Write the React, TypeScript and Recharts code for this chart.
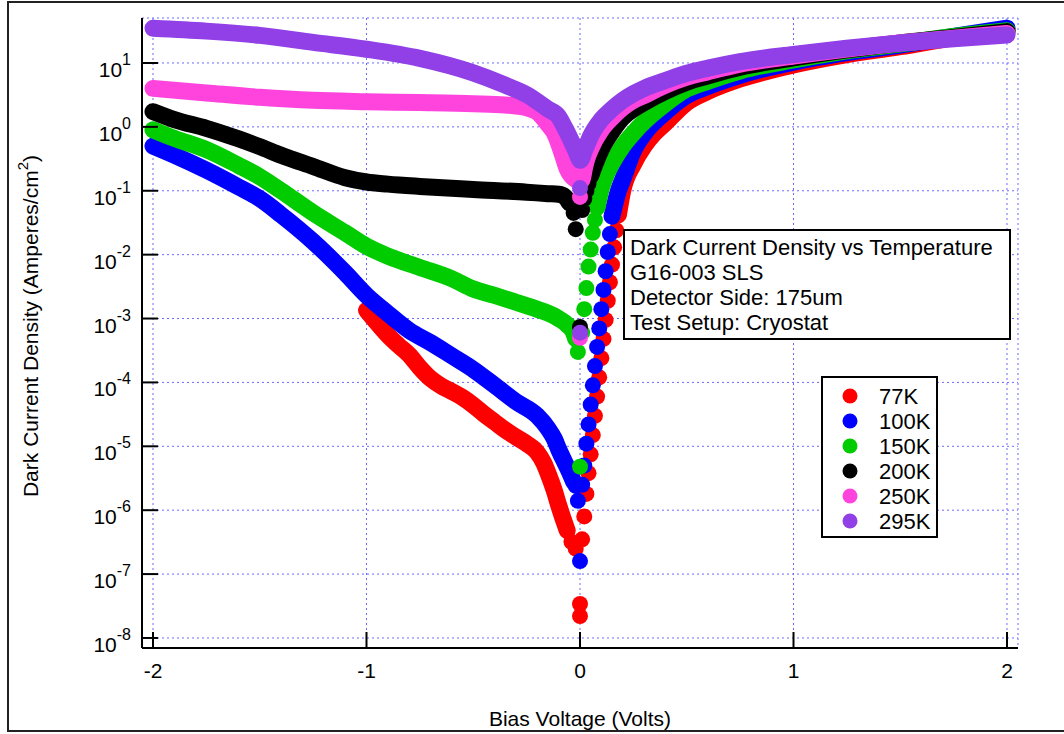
import { ComposedChart, Line, Scatter, XAxis, YAxis, CartesianGrid, Legend } from 'recharts'

const FONT = "'Liberation Sans', Arial, Helvetica, sans-serif"

type Pt = { v: number; j: number | null }

// axis ticks
const voltTicks = [-2, -1, 0, 1, 2]
const voltLabels = ['-2', '-1', '0', '1', '2']
const decadeTicks = [1e-8, 1e-7, 1e-6, 1e-5, 1e-4, 1e-3, 1e-2, 1e-1, 1, 10]
const decadeExps = ['-8', '-7', '-6', '-5', '-4', '-3', '-2', '-1', '0', '1']

const temps = ['77K', '100K', '150K', '200K', '250K', '295K']
const colors = ['#ff0000', '#0000ff', '#00cc00', '#000000', '#ff44dd', '#9040e6']

const infoLines = [
  'Dark Current Density vs Temperature',
  'G16-003 SLS',
  'Detector Side: 175um',
  'Test Setup: Cryostat',
]

// dense parts of each sweep (drawn as a fat trace), null = gap
const k77Trace: Pt[] = [
  { v: -1.0, j: 1.35e-3 }, { v: -0.95, j: 8.5e-4 }, { v: -0.9, j: 5.5e-4 }, { v: -0.85, j: 3.8e-4 },
  { v: -0.8, j: 2.7e-4 }, { v: -0.75, j: 1.7e-4 }, { v: -0.7, j: 1.15e-4 }, { v: -0.65, j: 8.8e-5 },
  { v: -0.6, j: 7.2e-5 }, { v: -0.55, j: 5.8e-5 }, { v: -0.5, j: 4.4e-5 }, { v: -0.45, j: 3.2e-5 },
  { v: -0.4, j: 2.4e-5 }, { v: -0.35, j: 1.8e-5 }, { v: -0.3, j: 1.4e-5 }, { v: -0.25, j: 1.1e-5 },
  { v: -0.2, j: 8e-6 }, { v: -0.17, j: 5.5e-6 }, { v: -0.15, j: 3.8e-6 }, { v: -0.12, j: 2e-6 },
  { v: -0.1, j: 1.2e-6 }, { v: -0.08, j: 7.5e-7 }, { v: -0.06, j: 4.8e-7 },
  { v: 0.05, j: null },
  { v: 0.18, j: 0.042 }, { v: 0.2, j: 0.1 }, { v: 0.25, j: 0.26 }, { v: 0.3, j: 0.5 }, { v: 0.35, j: 0.8 },
  { v: 0.4, j: 1.15 }, { v: 0.5, j: 2.4 }, { v: 0.6, j: 3.6 }, { v: 0.75, j: 5.6 }, { v: 1.0, j: 9.3 },
  { v: 1.25, j: 13.5 }, { v: 1.5, j: 18 }, { v: 1.75, j: 25 }, { v: 2.0, j: 33 },
]
const k77Dots: Pt[] = [
  { v: -0.04, j: 3.2e-7 }, { v: -0.02, j: 2.5e-7 }, { v: 0, j: 3.4e-8 }, { v: 0, j: 2.2e-8 },
  { v: 0.01, j: 3.5e-7 }, { v: 0.02, j: 8e-7 }, { v: 0.03, j: 1.8e-6 }, { v: 0.04, j: 3.8e-6 },
  { v: 0.05, j: 7.5e-6 }, { v: 0.06, j: 1.5e-5 }, { v: 0.07, j: 3e-5 }, { v: 0.08, j: 6e-5 },
  { v: 0.09, j: 1.2e-4 }, { v: 0.1, j: 2.4e-4 }, { v: 0.11, j: 4.8e-4 }, { v: 0.12, j: 9.5e-4 },
  { v: 0.13, j: 1.9e-3 }, { v: 0.14, j: 3.7e-3 }, { v: 0.15, j: 7e-3 }, { v: 0.16, j: 0.013 },
  { v: 0.17, j: 0.024 },
]

const k100Trace: Pt[] = [
  { v: -2.0, j: 0.5 }, { v: -1.9, j: 0.36 }, { v: -1.75, j: 0.21 }, { v: -1.6, j: 0.115 },
  { v: -1.5, j: 0.075 }, { v: -1.4, j: 0.042 }, { v: -1.25, j: 0.016 }, { v: -1.1, j: 5.2e-3 },
  { v: -1.0, j: 2.3e-3 }, { v: -0.9, j: 1.2e-3 }, { v: -0.8, j: 6.5e-4 }, { v: -0.7, j: 4.2e-4 },
  { v: -0.6, j: 2.6e-4 }, { v: -0.5, j: 1.6e-4 }, { v: -0.4, j: 9e-5 }, { v: -0.3, j: 5e-5 },
  { v: -0.2, j: 3e-5 }, { v: -0.15, j: 1.9e-5 }, { v: -0.12, j: 1.3e-5 }, { v: -0.1, j: 9e-6 },
  { v: -0.07, j: 5.5e-6 }, { v: -0.05, j: 4e-6 }, { v: -0.03, j: 2.8e-6 },
  { v: 0.05, j: null },
  { v: 0.15, j: 0.04 }, { v: 0.18, j: 0.1 }, { v: 0.2, j: 0.15 }, { v: 0.25, j: 0.42 }, { v: 0.3, j: 0.78 },
  { v: 0.4, j: 1.7 }, { v: 0.5, j: 3.1 }, { v: 0.6, j: 4.3 }, { v: 0.75, j: 6.4 }, { v: 1.0, j: 10.3 },
  { v: 1.25, j: 14.5 }, { v: 1.5, j: 19 }, { v: 1.75, j: 26 }, { v: 2.0, j: 35 },
]
const k100Dots: Pt[] = [
  { v: -0.02, j: 2.4e-6 }, { v: -0.01, j: 1.4e-6 }, { v: 0, j: 1.6e-7 },
  { v: 0.01, j: 2.5e-6 }, { v: 0.02, j: 5e-6 }, { v: 0.03, j: 1.1e-5 }, { v: 0.04, j: 2.2e-5 },
  { v: 0.05, j: 4.5e-5 }, { v: 0.06, j: 9e-5 }, { v: 0.07, j: 1.8e-4 }, { v: 0.08, j: 3.6e-4 },
  { v: 0.09, j: 7e-4 }, { v: 0.1, j: 1.4e-3 }, { v: 0.11, j: 2.8e-3 }, { v: 0.12, j: 5.5e-3 },
  { v: 0.13, j: 0.011 }, { v: 0.14, j: 0.021 },
]

const k150Trace: Pt[] = [
  { v: -2.0, j: 0.9 }, { v: -1.9, j: 0.66 }, { v: -1.75, j: 0.44 }, { v: -1.6, j: 0.25 },
  { v: -1.5, j: 0.166 }, { v: -1.4, j: 0.1 }, { v: -1.25, j: 0.045 }, { v: -1.1, j: 0.022 },
  { v: -1.0, j: 0.0135 }, { v: -0.9, j: 0.0095 }, { v: -0.75, j: 0.0063 }, { v: -0.6, j: 0.0042 },
  { v: -0.5, j: 0.0029 }, { v: -0.4, j: 0.0023 }, { v: -0.3, j: 0.0018 }, { v: -0.2, j: 0.0014 },
  { v: -0.1, j: 0.001 }, { v: -0.06, j: 8e-4 }, { v: -0.03, j: 6e-4 }, { v: -0.02, j: 4.8e-4 },
  { v: 0.05, j: null },
  { v: 0.08, j: 0.055 }, { v: 0.1, j: 0.11 }, { v: 0.12, j: 0.17 }, { v: 0.15, j: 0.27 }, { v: 0.2, j: 0.5 },
  { v: 0.25, j: 0.8 }, { v: 0.3, j: 1.2 }, { v: 0.4, j: 2.3 }, { v: 0.5, j: 3.9 }, { v: 0.6, j: 5.2 },
  { v: 0.75, j: 7.5 }, { v: 1.0, j: 11.2 }, { v: 1.25, j: 15.5 }, { v: 1.5, j: 20 }, { v: 1.75, j: 26 },
  { v: 2.0, j: 32 },
]
const k150Dots: Pt[] = [
  { v: -0.01, j: 3e-4 }, { v: 0, j: 4.8e-6 },
  { v: 0.01, j: 6e-4 }, { v: 0.02, j: 1.4e-3 }, { v: 0.03, j: 3e-3 }, { v: 0.04, j: 6.5e-3 },
  { v: 0.05, j: 0.012 }, { v: 0.06, j: 0.022 }, { v: 0.07, j: 0.035 },
]

const k200Trace: Pt[] = [
  { v: -2.0, j: 1.73 }, { v: -1.9, j: 1.3 }, { v: -1.75, j: 0.95 }, { v: -1.6, j: 0.65 },
  { v: -1.5, j: 0.49 }, { v: -1.4, j: 0.36 }, { v: -1.25, j: 0.24 }, { v: -1.1, j: 0.16 },
  { v: -1.0, j: 0.137 }, { v: -0.9, j: 0.127 }, { v: -0.75, j: 0.117 }, { v: -0.5, j: 0.105 },
  { v: -0.25, j: 0.095 }, { v: -0.15, j: 0.09 }, { v: -0.1, j: 0.088 }, { v: -0.07, j: 0.08 },
  { v: -0.05, j: 0.065 },
  { v: 0, j: null },
  { v: 0.05, j: 0.17 }, { v: 0.07, j: 0.26 }, { v: 0.1, j: 0.45 }, { v: 0.15, j: 0.85 }, { v: 0.2, j: 1.4 },
  { v: 0.25, j: 1.9 }, { v: 0.3, j: 2.4 }, { v: 0.4, j: 3.6 }, { v: 0.5, j: 5.0 }, { v: 0.6, j: 6.3 },
  { v: 0.75, j: 8.6 }, { v: 1.0, j: 12 }, { v: 1.25, j: 16 }, { v: 1.5, j: 20.5 }, { v: 1.75, j: 25 },
  { v: 2.0, j: 31 },
]
const k200Dots: Pt[] = [
  { v: -0.03, j: 0.045 }, { v: -0.02, j: 0.025 }, { v: 0, j: 7.4e-4 },
  { v: 0.01, j: 0.05 }, { v: 0.02, j: 0.075 }, { v: 0.03, j: 0.1 }, { v: 0.04, j: 0.13 },
]

const k250Trace: Pt[] = [
  { v: -2.0, j: 4.0 }, { v: -1.75, j: 3.4 }, { v: -1.5, j: 2.9 }, { v: -1.25, j: 2.6 },
  { v: -1.0, j: 2.48 }, { v: -0.75, j: 2.4 }, { v: -0.5, j: 2.3 }, { v: -0.35, j: 2.2 },
  { v: -0.25, j: 2.0 }, { v: -0.2, j: 1.7 }, { v: -0.15, j: 1.1 }, { v: -0.12, j: 0.8 },
  { v: -0.1, j: 0.55 }, { v: -0.08, j: 0.35 }, { v: -0.06, j: 0.22 }, { v: -0.04, j: 0.17 },
  { v: -0.02, j: 0.15 }, { v: 0, j: 0.14 }, { v: 0.01, j: 0.15 }, { v: 0.02, j: 0.22 },
  { v: 0.03, j: 0.3 }, { v: 0.05, j: 0.45 }, { v: 0.1, j: 0.9 }, { v: 0.15, j: 1.4 }, { v: 0.2, j: 2.0 },
  { v: 0.25, j: 2.6 }, { v: 0.3, j: 3.1 }, { v: 0.4, j: 4.5 }, { v: 0.5, j: 6.0 }, { v: 0.6, j: 7.3 },
  { v: 0.75, j: 9.6 }, { v: 1.0, j: 12.8 }, { v: 1.25, j: 16.5 }, { v: 1.5, j: 20.5 }, { v: 1.75, j: 24.5 },
  { v: 2.0, j: 29 },
]
const k250Dots: Pt[] = [{ v: 0, j: 0.08 }, { v: 0, j: 5e-4 }]

const k295Trace: Pt[] = [
  { v: -2.0, j: 35 }, { v: -1.75, j: 31.5 }, { v: -1.5, j: 27 }, { v: -1.25, j: 21 },
  { v: -1.0, j: 16.4 }, { v: -0.75, j: 11.8 }, { v: -0.5, j: 7 }, { v: -0.35, j: 4.5 },
  { v: -0.25, j: 3.2 }, { v: -0.15, j: 1.9 }, { v: -0.1, j: 1.45 }, { v: -0.07, j: 0.95 },
  { v: -0.05, j: 0.7 }, { v: -0.03, j: 0.5 }, { v: -0.02, j: 0.42 }, { v: -0.01, j: 0.35 },
  { v: 0, j: 0.3 }, { v: 0.01, j: 0.33 }, { v: 0.02, j: 0.42 }, { v: 0.03, j: 0.5 }, { v: 0.05, j: 0.72 },
  { v: 0.1, j: 1.3 }, { v: 0.15, j: 1.9 }, { v: 0.2, j: 2.6 }, { v: 0.25, j: 3.3 }, { v: 0.3, j: 4.0 },
  { v: 0.4, j: 5.3 }, { v: 0.5, j: 6.9 }, { v: 0.6, j: 8.3 }, { v: 0.75, j: 10.5 }, { v: 1.0, j: 13.6 },
  { v: 1.25, j: 17 }, { v: 1.5, j: 20.5 }, { v: 1.75, j: 24 }, { v: 2.0, j: 27.5 },
]
const k295Dots: Pt[] = [{ v: 0, j: 0.11 }, { v: 0, j: 6e-4 }]

const traces = [k77Trace, k100Trace, k150Trace, k200Trace, k250Trace, k295Trace]
const dotSets = [k77Dots, k100Dots, k150Dots, k200Dots, k250Dots, k295Dots]

const xDomain = [-2.0515, 2.0515]
const yDomain = [Math.pow(10, -8.157), Math.pow(10, 1.704)]

const BottomTick = ({ x, y, payload }: any) => (
  <g>
    <line x1={x} y1={y} x2={x} y2={y - 16} stroke="#000" strokeWidth={2} />
    <text x={x} y={y + 30} textAnchor="middle" fontSize={21} fontFamily={FONT} fill="#000">
      {voltLabels[voltTicks.indexOf(payload.value)]}
    </text>
  </g>
)

const TopTick = ({ x, y }: any) => <line x1={x} y1={y} x2={x} y2={y + 16} stroke="#000" strokeWidth={2} />

const LeftTick = ({ x, y, payload }: any) => (
  <g>
    <line x1={x} y1={y} x2={x + 16} y2={y} stroke="#000" strokeWidth={2} />
    <text x={x - 11} y={y + 14} textAnchor="end" fontSize={21} fontFamily={FONT} fill="#000">
      10
      <tspan dy={-12} fontSize={16}>
        {decadeExps[decadeTicks.indexOf(payload.value)]}
      </tspan>
    </text>
  </g>
)

const RightTick = ({ x, y }: any) => <line x1={x} y1={y} x2={x - 16} y2={y} stroke="#000" strokeWidth={2} />

const XTitle = ({ viewBox }: any) => {
  const vb = viewBox || { x: 142, y: 648, width: 876 }
  return (
    <text x={vb.x + vb.width / 2} y={vb.y + 78} textAnchor="middle" fontSize={21} fontFamily={FONT} fill="#000">
      Bias Voltage (Volts)
    </text>
  )
}

const YTitle = ({ viewBox }: any) => {
  const vb = viewBox || { y: 18, height: 630 }
  const cx = 38
  const cy = vb.y + vb.height / 2 - 7
  return (
    <text x={cx} y={cy} transform={`rotate(-90 ${cx} ${cy})`} textAnchor="middle" fontSize={21} fontFamily={FONT} fill="#000">
      Dark Current Density (Amperes/cm
      <tspan dy={-10} fontSize={15}>2</tspan>
      <tspan dy={10}>)</tspan>
    </text>
  )
}

const LegendBox = () => (
  <svg width={117} height={162} style={{ display: 'block' }}>
    <rect x={1} y={1} width={115} height={160} fill="#fff" stroke="#000" strokeWidth={2} />
    {temps.map((t, i) => (
      <g key={t}>
        <circle cx={29} cy={20 + i * 25} r={7.5} fill={colors[i]} />
        <text x={58} y={27.5 + i * 25} fontSize={22} fontFamily={FONT} fill="#000">
          {t}
        </text>
      </g>
    ))}
  </svg>
)

const makeDot = (color: string) => (p: any) => <circle cx={p.cx} cy={p.cy} r={8} fill={color} />

export default function App() {
  return (
    <div style={{ position: 'absolute', left: 0, top: 0, width: 1064, height: 734, overflow: 'hidden', background: '#fff' }}>
      <div
        style={{
          position: 'absolute', left: 7, top: 1, width: 1070, height: 731,
          border: '2px solid #222', boxSizing: 'border-box',
        }}
      />
      <div style={{ position: 'absolute', left: 0, top: 0 }}>
        <ComposedChart width={1064} height={734} margin={{ top: 18, right: 46, bottom: 26, left: 82 }}>
          <CartesianGrid stroke="#6a6aff" strokeDasharray="2 3" strokeWidth={1} />
          <XAxis
            dataKey="v" type="number" domain={xDomain} allowDataOverflow ticks={voltTicks} interval={0}
            height={60} tickSize={0} tickMargin={0} tickLine={false}
            axisLine={{ stroke: '#000', strokeWidth: 2 }} tick={<BottomTick />} label={XTitle}
          />
          <XAxis
            xAxisId="top" orientation="top" dataKey="v" type="number" domain={xDomain} allowDataOverflow
            ticks={voltTicks} interval={0} height={0} tickSize={0} tickMargin={0} tickLine={false}
            axisLine={{ stroke: '#000', strokeWidth: 2 }} tick={<TopTick />}
          />
          <YAxis
            dataKey="j" type="number" scale="log" domain={yDomain} allowDataOverflow ticks={decadeTicks}
            interval={0} width={60} tickSize={0} tickMargin={0} tickLine={false}
            axisLine={{ stroke: '#000', strokeWidth: 2 }} tick={<LeftTick />} label={YTitle}
          />
          <YAxis
            yAxisId="right" orientation="right" dataKey="j" type="number" scale="log" domain={yDomain}
            allowDataOverflow ticks={decadeTicks} interval={0} width={0} tickSize={0} tickMargin={0}
            tickLine={false} axisLine={{ stroke: '#000', strokeWidth: 2 }} tick={<RightTick />}
          />
          {temps.flatMap((t, i) => [
            <Line
              key={`${t}-trace`}
              data={traces[i]}
              dataKey="j"
              name={t}
              type="monotone"
              stroke={colors[i]}
              strokeWidth={17}
              strokeLinecap="round"
              strokeLinejoin="round"
              dot={false}
              activeDot={false}
              legendType="none"
              isAnimationActive={false}
              zIndex={400 + i * 2}
            />,
            <Scatter
              key={`${t}-dots`}
              data={dotSets[i]}
              dataKey="j"
              name={t}
              fill={colors[i]}
              shape={makeDot(colors[i])}
              legendType="none"
              isAnimationActive={false}
              zIndex={401 + i * 2}
            />,
          ])}
          <Legend
            layout="vertical" align="center" verticalAlign="middle"
            content={<LegendBox />}
            wrapperStyle={{ left: 821, top: 376, width: 117, height: 162 }}
          />
        </ComposedChart>
      </div>
      <div style={{ position: 'absolute', left: 623, top: 229 }}>
        <svg width={388} height={111} style={{ display: 'block' }}>
          <rect x={1} y={1} width={386} height={109} fill="#fff" stroke="#000" strokeWidth={2} />
          {infoLines.map((line, i) => (
            <text key={line} x={7} y={26 + i * 25} fontSize={22} fontFamily={FONT} fill="#000">
              {line}
            </text>
          ))}
        </svg>
      </div>
    </div>
  )
}
